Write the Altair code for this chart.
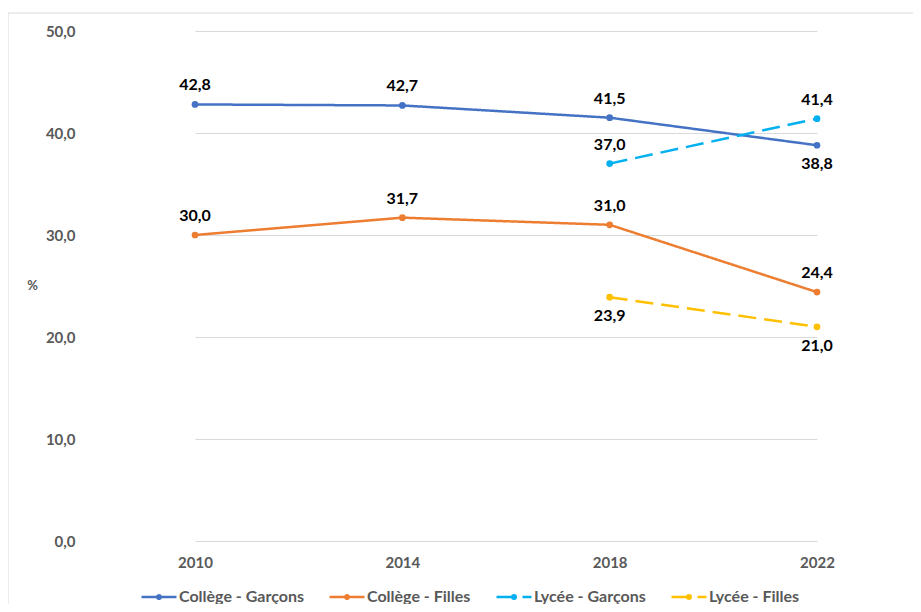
import altair as alt
import pandas as pd

years = ["2010", "2014", "2018", "2022"]
series_names = ["Collège - Garçons", "Collège - Filles", "Lycée - Garçons", "Lycée - Filles"]
college_garcons = [42.8, 42.7, 41.5, 38.8]
college_filles = [30.0, 31.7, 31.0, 24.4]
lycee_garcons = [None, None, 37.0, 41.4]
lycee_filles = [None, None, 23.9, 21.0]
# placement of the value label relative to its point
sides_college_garcons = ["haut", "haut", "haut", "bas"]
sides_college_filles = ["haut", "haut", "haut", "haut"]
sides_lycee_garcons = ["haut", "haut", "haut", "haut"]
sides_lycee_filles = ["bas", "bas", "bas", "bas"]

colors = ["#4472C4", "#ED7D31", "#00B0F0", "#FFC000"]
dashes = [[1, 0], [1, 0], [18, 8], [18, 8]]

rows = []
for name, vals, sides in zip(
    series_names,
    [college_garcons, college_filles, lycee_garcons, lycee_filles],
    [sides_college_garcons, sides_college_filles, sides_lycee_garcons, sides_lycee_filles],
):
    for yr, v, s in zip(years, vals, sides):
        if v is not None:
            rows.append({"annee": yr, "serie": name, "valeur": v, "cote": s})
df = pd.DataFrame(rows)

FONT = "Lato"
GREY = "#595959"

x_enc = alt.X(
    "annee:N",
    sort=years,
    scale=alt.Scale(type="point", range=[104, 726], padding=0),
    axis=alt.Axis(
        title=None, labelAngle=0, domain=False, ticks=False, grid=False,
        labelFont=FONT, labelFontSize=15, labelFontWeight="bold",
        labelColor=GREY, labelPadding=14,
    ),
)
y_enc = alt.Y(
    "valeur:Q",
    scale=alt.Scale(domain=[0, 50], nice=False),
    axis=alt.Axis(
        values=[0, 10, 20, 30, 40, 50],
        labelExpr="replace(format(datum.value, '.1f'), '.', ',')",
        domain=False, ticks=False, grid=True, gridColor="#d9d9d9", gridWidth=1,
        labelFont=FONT, labelFontSize=15, labelFontWeight="bold", labelColor=GREY,
        labelPadding=16,
        title="%", titleAngle=0, titleX=-59, titleY=254, titleAlign="center",
        titleBaseline="middle", titleFont=FONT, titleFontSize=13,
        titleFontWeight="bold", titleColor=GREY,
    ),
)

legend = alt.Legend(
    title=None, orient="none", legendX=49, legendY=547, direction="horizontal",
    columns=4, columnPadding=20, labelOffset=1,
    labelFont=FONT, labelFontSize=16, labelFontWeight="bold", labelColor=GREY,
    symbolType="M-1,0L1,0M-0.1,0A0.1,0.1,0,1,0,0.1,0A0.1,0.1,0,1,0,-0.1,0Z",
    symbolSize=1225, symbolStrokeWidth=2.5,
)

color_enc = alt.Color("serie:N", scale=alt.Scale(domain=series_names, range=colors), legend=legend)
dash_enc = alt.StrokeDash("serie:N", scale=alt.Scale(domain=series_names, range=dashes), legend=legend)

lines = alt.Chart(df).mark_line(
    strokeWidth=2.5, point=alt.OverlayMarkDef(filled=True, size=45)
).encode(x=x_enc, y=y_enc, color=color_enc, strokeDash=dash_enc, detail="serie:N")

label_expr = "replace(format(datum.valeur, '.1f'), '.', ',')"
above = alt.Chart(df).transform_filter("datum.cote == 'haut'").transform_calculate(
    txt=label_expr
).mark_text(dy=-19, font=FONT, fontSize=16, fontWeight="bold", color="#000000").encode(
    x=alt.X("annee:N", sort=years), y="valeur:Q", text="txt:N"
)
below = alt.Chart(df).transform_filter("datum.cote == 'bas'").transform_calculate(
    txt=label_expr
).mark_text(dy=19, font=FONT, fontSize=16, fontWeight="bold", color="#000000").encode(
    x=alt.X("annee:N", sort=years), y="valeur:Q", text="txt:N"
)

border = alt.Chart(pd.DataFrame({"a": [0]})).mark_rect(
    filled=False, stroke="#d9d9d9", strokeWidth=1
).encode(x=alt.value(-83), x2=alt.value(1000), y=alt.value(-18), y2=alt.value(700))

chart = alt.layer(border, lines, above, below).properties(
    width=822, height=510,
    autosize=alt.AutoSizeParams(type="none"),
    padding={"left": 83, "top": 23, "right": 0, "bottom": 63},
    background="white",
).configure_view(stroke=None)

chart.save("out.html", embed_options={"renderer": "svg", "actions": False})
